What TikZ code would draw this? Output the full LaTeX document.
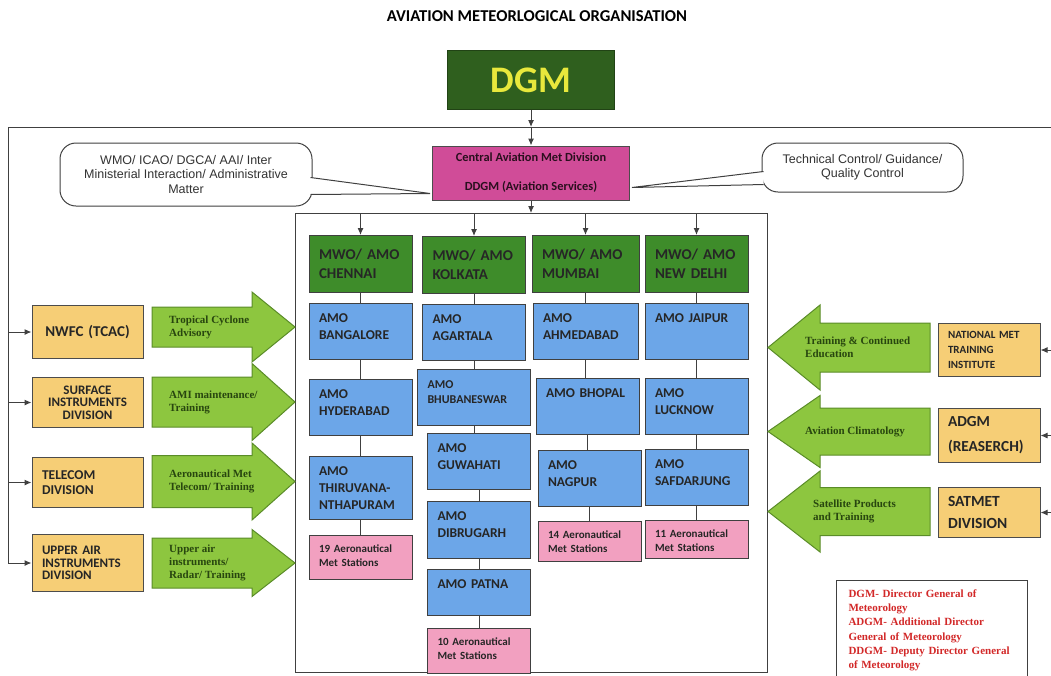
\documentclass[tikz,border=0pt]{standalone}
\usepackage{fontspec}
\newfontfamily\calfont{Carlito}
\newfontfamily\arialfont{Liberation Sans}
\newfontfamily\serfont{Liberation Serif}
\usetikzlibrary{positioning,arrows.meta,calc}

\definecolor{dgmgreen}{RGB}{47,95,30}
\definecolor{dgmyellow}{RGB}{232,232,60}
\definecolor{campink}{RGB}{208,76,152}
\definecolor{mwogreen}{RGB}{62,140,42}
\definecolor{amoblue}{RGB}{108,166,232}
\definecolor{stnpink}{RGB}{242,160,192}
\definecolor{divorange}{RGB}{246,206,118}
\definecolor{arrowgreen}{RGB}{141,198,63}
\definecolor{arrowline}{RGB}{90,140,40}
\definecolor{arrowtext}{RGB}{40,70,15}
\definecolor{legendred}{RGB}{210,40,40}

\begin{document}
\begin{tikzpicture}[x=1pt, y=-1pt,
		conn/.style={draw=black!75, line width=1pt},
		arr/.style={conn, -{Latex[length=7pt, width=6pt]}},
		box/.style={draw=black!75, line width=1pt, inner xsep=10pt, inner ysep=4pt, align=left, text width=83pt, anchor=north},
		mwonode/.style={box, fill=mwogreen, minimum height=57pt, text=black!85, font=\calfont\bfseries\fontsize{15}{19}\selectfont},
		amonode/.style={box, fill=amoblue, text=black!85, text height=15pt, text depth={#1-23pt}, font=\calfont\bfseries\fontsize{13.5}{17}\selectfont},
		amonode/.default=56pt,
		stnnode/.style={box, fill=stnpink, text=black!85, text height=13pt, text depth={#1-21pt}, font=\calfont\bfseries\fontsize{11}{13.5}\selectfont},
		stnnode/.default=44pt,
		divnode/.style={draw=black!70, line width=1pt, fill=divorange, text=black!85, inner xsep=10pt, inner ysep=0pt, text width=#1, anchor=north},
		calloutnode/.style={draw=black!75, line width=1pt, fill=white, rounded corners=16pt, align=center, text=black!80, font=\arialfont\fontsize{12.5}{14.5}\selectfont},
		blockarrow/.style={fill=arrowgreen, draw=arrowline, line width=1pt},
		arrowlabel/.style={align=left, inner sep=0pt, anchor=west, text=arrowtext, font=\serfont\bfseries\fontsize{11}{13}\selectfont},
	]
	\useasboundingbox (0,0) rectangle (1051,675);

	%Title and head
	\node[font=\calfont\bfseries\fontsize{16.6}{20}\selectfont] (title) at (537,16) {AVIATION METEORLOGICAL ORGANISATION};
	\node[draw=dgmgreen!70!black, fill=dgmgreen, minimum width=167pt, minimum height=59pt, text=dgmyellow, font=\calfont\bfseries\fontsize{37.5}{40}\selectfont] (dgm) at (531,80) {DGM};
	\node[draw=black!70, line width=1pt, fill=campink, minimum width=197pt, minimum height=54pt, align=center, text=black!80!campink, font=\calfont\bfseries\fontsize{12.4}{14.5}\selectfont] (cam) at (531,173) {Central Aviation Met Division\\[14.5pt]DDGM (Aviation Services)};

	%Bus
	\coordinate (ltop) at (8,127);
	\coordinate (rtop) at (1052,127);
	\draw[conn] (ltop) -- (rtop);
	\draw[arr] (dgm.south) -- (dgm.south |- ltop);
	\draw[arr] (dgm.south |- ltop) -- (cam.north);

	%Frame
	\node[draw=black!75, line width=1pt, minimum width=472pt, minimum height=459pt, inner sep=0pt, anchor=north west] (frame) at (295,213) {};
	\draw[arr] (cam.south) -- (cam.south |- frame.north);

	%Chennai
	\node[mwonode] (che) at (360.5,235) {MWO/ AMO\\CHENNAI};
	\node[amonode] (ban) [below=10pt of che] {AMO\\BANGALORE};
	\node[amonode] (hyd) [below=19pt of ban] {AMO\\HYDERABAD};
	\node[amonode=63pt] (thi) [below=20pt of hyd] {AMO\\THIRUVANA-\\NTHAPURAM};
	\node[stnnode] (st19) [below=15pt of thi] {19 Aeronautical\\Met Stations};

	%Kolkata
	\node[mwonode] (kol) at (474,236) {MWO/ AMO\\KOLKATA};
	\node[amonode] (aga) [below=10pt of kol] {AMO\\AGARTALA};
	\node[amonode, text width=93pt, font=\calfont\bfseries\fontsize{12}{15}\selectfont] (bhu) [below=8pt of aga] {AMO\\BHUBANESWAR};
	\node[amonode] (guw) [below=7pt of bhu, xshift=5pt] {AMO\\GUWAHATI};
	\node[amonode=57pt] (dib) [below=11pt of guw] {AMO\\DIBRUGARH};
	\node[amonode=46pt] (pat) [below=10pt of dib] {AMO PATNA};
	\node[stnnode=45pt] (st10) [below=12pt of pat] {10 Aeronautical\\Met Stations};

	%Mumbai
	\node[mwonode, text width=87pt] (mum) at (585.5,235) {MWO/ AMO\\MUMBAI};
	\node[amonode, text width=85pt] (ahm) [below=10pt of mum] {AMO\\AHMEDABAD};
	\node[amonode] (bho) [below=18pt of ahm, xshift=2pt] {AMO BHOPAL};
	\node[amonode] (nag) [below=15pt of bho, xshift=2pt] {AMO\\NAGPUR};
	\node[stnnode=40pt] (st14) [below=14pt of nag] {14 Aeronautical\\Met Stations};

	%New Delhi
	\node[mwonode] (del) at (696.5,235) {MWO/ AMO\\NEW DELHI};
	\node[amonode] (jai) [below=10pt of del] {AMO JAIPUR};
	\node[amonode] (luc) [below=18pt of jai] {AMO\\LUCKNOW};
	\node[amonode] (saf) [below=14pt of luc] {AMO\\SAFDARJUNG};
	\node[stnnode=38pt] (st11) [below=14pt of saf] {11 Aeronautical\\Met Stations};

	%Column lines
	\foreach \c in {che,kol,mum,del}
		\draw[arr] (\c.north |- frame.north) -- (\c.north);
	\foreach \a/\b in {che/ban, ban/hyd, hyd/thi, thi/st19, kol/aga, aga/bhu, bhu/guw, guw/dib, dib/pat, pat/st10, mum/ahm, ahm/bho, bho/nag, nag/st14, del/jai, jai/luc, luc/saf, saf/st11}
		\draw[conn] (\a.south) -- (\a.south |- \b.north);

	%Left divisions
	\node[divnode=91pt, align=center, minimum height=53pt, font=\calfont\bfseries\fontsize{15}{18}\selectfont] (nwfc) at (87.5,305) {NWFC (TCAC)};
	\node[divnode=91pt, align=center, minimum height=50pt, font=\calfont\bfseries\fontsize{13}{12.5}\selectfont] (sid) [below=18pt of nwfc] {SURFACE\\INSTRUMENTS\\DIVISION};
	\node[divnode=91pt, align=left, minimum height=50pt, font=\calfont\bfseries\fontsize{13.5}{14.5}\selectfont] (tel) [below=29pt of sid] {TELECOM\\DIVISION};
	\node[divnode=91pt, align=left, minimum height=57pt, font=\calfont\bfseries\fontsize{13}{12.5}\selectfont] (uai) [below=26pt of tel] {UPPER AIR\\INSTRUMENTS\\DIVISION};
	\draw[conn] (ltop) -- (ltop |- uai.west);
	\foreach \n in {nwfc,sid,tel,uai}
		\draw[arr] (ltop |- \n.west) -- (\n.west);

	%Right divisions
	\node[divnode=82pt, align=left, minimum height=53pt, font=\calfont\bfseries\fontsize{11}{15}\selectfont] (nmti) at (989,323) {NATIONAL MET\\TRAINING\\INSTITUTE};
	\node[divnode=82pt, align=left, minimum height=54pt, font=\calfont\bfseries\fontsize{15.3}{25}\selectfont] (adgm) [below=31pt of nmti] {ADGM\\(REASERCH)};
	\node[divnode=82pt, align=left, minimum height=50pt, font=\calfont\bfseries\fontsize{15.5}{22}\selectfont] (sat) [below=24pt of adgm] {SATMET\\DIVISION};
	\draw[conn] (rtop) -- (rtop |- sat.east);
	\foreach \n in {nmti,adgm,sat}
		\draw[arr] (rtop |- \n.east) -- (\n.east);

	%Block arrows
	\foreach \yc/\bh/\hh/\n/\txt in {327/20/35/tca/{Tropical Cyclone\\Advisory}, 402/25/38.5/ami/{AMI maintenance/\\Training}, 481.5/26/38.5/amt/{Aeronautical Met\\Telecom/ Training}, 563/25/33.5/uat/{Upper air\\instruments/\\Radar/ Training}}
	{
		\filldraw[blockarrow] (152,\yc-\bh) -- (252,\yc-\bh) -- (252,\yc-\hh) -- (295,\yc) -- (252,\yc+\hh) -- (252,\yc+\bh) -- (152,\yc+\bh) -- cycle;
		\node[arrowlabel] (\n) at (169,\yc) {\txt};
	}
	\foreach \yc/\bh/\hh/\tx/\n/\txt in {347.5/24.5/42.5/805/tce/{Training \& Continued\\Education}, 431.5/23.5/36/805/avc/{Aviation Climatology}, 511.5/24/40.5/813/spt/{Satellite Products\\and Training}}
	{
		\filldraw[blockarrow] (930,\yc-\bh) -- (820,\yc-\bh) -- (820,\yc-\hh) -- (768,\yc) -- (820,\yc+\hh) -- (820,\yc+\bh) -- (930,\yc+\bh) -- cycle;
		\node[arrowlabel] (\n) at (\tx,\yc) {\txt};
	}

	%Callouts
	\node[calloutnode, minimum width=252pt, minimum height=63pt] (wmo) at (186,174.5) {WMO/ ICAO/ DGCA/ AAI/ Inter\\Ministerial Interaction/ Administrative\\Matter};
	\node[calloutnode, minimum width=201pt, minimum height=49pt] (tcq) at (862.5,167.5) {Technical Control/ Guidance/\\Quality Control};
	\filldraw[fill=white, draw=black!75, line width=1pt] ($(wmo.north east)+(-2,35)$) -- ($(cam.south west)+(-2,-7)$) -- ($(wmo.north east)+(-2,52)$);
	\filldraw[fill=white, draw=black!75, line width=1pt] ($(tcq.north west)+(2,29)$) -- ($(cam.south east)+(2,-13)$) -- ($(tcq.north west)+(2,42)$);

	%Legend
	\node[draw=black!75, line width=1pt, anchor=north west, inner xsep=12pt, inner ysep=6pt, text width=167pt, align=left, text height=11pt, text depth=77pt, text=legendred, font=\serfont\bfseries\fontsize{11}{14.2}\selectfont] (legend) at (836,580) {DGM- Director General of\\Meteorology\\ADGM- Additional Director\\General of Meteorology\\DDGM- Deputy Director General\\of Meteorology};

\end{tikzpicture}
\end{document}
